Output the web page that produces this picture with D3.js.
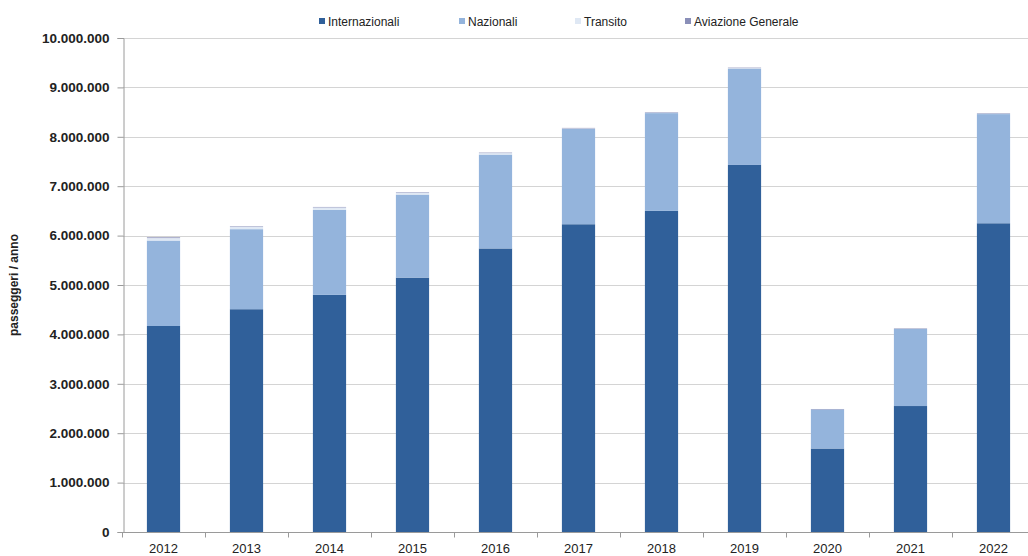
<!DOCTYPE html>
<html>
<head>
<meta charset="utf-8">
<script src="https://cdn.jsdelivr.net/npm/d3@7/dist/d3.min.js"></script>
<style>
  html, body { margin: 0; padding: 0; background: #ffffff; }
  svg { display: block; font-family: "Liberation Sans", Arial, sans-serif; }
</style>
</head>
<body>
<svg id="chart" width="1028" height="556"></svg>
<script>
// Annual passenger traffic, split by traffic type
const years = ["2012", "2013", "2014", "2015", "2016", "2017", "2018", "2019", "2020", "2021", "2022"];
const internazionali = [4170000, 4510000, 4800000, 5150000, 5740000, 6230000, 6500000, 7430000, 1690000, 2550000, 6250000];
const nazionali      = [1730000, 1620000, 1720000, 1680000, 1900000, 1930000, 1980000, 1950000,  790000, 1560000, 2210000];
const transito       = [  50000,   50000,   50000,   40000,   30000,   10000,   10000,   10000,       0,       0,   10000];
const aviazione      = [  15000,   10000,   10000,   10000,   10000,   10000,   10000,   10000,   10000,   10000,   10000];
const seriesNames = ["Internazionali", "Nazionali", "Transito", "Aviazione Generale"];
const yTicks = [0, 1000000, 2000000, 3000000, 4000000, 5000000, 6000000, 7000000, 8000000, 9000000, 10000000];
const yTitle = "passeggeri / anno";

const colors = {
  "Internazionali": "#30609a",
  "Nazionali": "#94b4dc",
  "Transito": "#dfe8f4",
  "Aviazione Generale": "#8a8fb8"
};

const rows = years.map((y, i) => ({
  year: y,
  "Internazionali": internazionali[i],
  "Nazionali": nazionali[i],
  "Transito": transito[i],
  "Aviazione Generale": aviazione[i]
}));

const svg = d3.select("#chart");
const W = 1028;

const x = d3.scaleBand().domain(years).range([122, 1035]).paddingInner(0.6).paddingOuter(0.3);
const y = d3.scaleLinear().domain([0, 10000000]).range([532, 38]);

const fmt = v => d3.format(",")(v).replace(/,/g, ".");

// horizontal gridlines
svg.append("g").selectAll("line").data(yTicks.filter(d => d > 0)).join("line")
  .attr("x1", 123).attr("x2", W)
  .attr("y1", d => Math.round(y(d)) + 0.5).attr("y2", d => Math.round(y(d)) + 0.5)
  .attr("stroke", "#d4d4d4").attr("stroke-width", 1);

// stacked bars
const stack = d3.stack().keys(seriesNames)(rows);
svg.append("g").selectAll("g").data(stack).join("g")
  .attr("fill", d => colors[d.key])
  .selectAll("rect").data(d => d).join("rect")
  .attr("x", d => x(d.data.year))
  .attr("width", x.bandwidth())
  .attr("y", d => y(d[1]))
  .attr("height", d => Math.max(0, y(d[0]) - y(d[1])));

// y axis
const yAxis = d3.axisLeft(y).tickValues(yTicks).tickFormat(fmt).tickSize(6).tickPadding(8);
const gy = svg.append("g").attr("transform", "translate(123.5,0)").call(yAxis);
gy.select(".domain").attr("stroke", "#9a9a9a");
gy.selectAll(".tick line").attr("stroke", "#9a9a9a");
gy.selectAll(".tick text")
  .attr("font-family", "Liberation Sans, Arial, sans-serif")
  .attr("font-size", 13.5).attr("font-weight", "bold").attr("fill", "#222");

// x axis with ticks at category boundaries
const gx = svg.append("g").attr("transform", "translate(0,532.5)");
gx.append("line").attr("x1", 123).attr("x2", W).attr("stroke", "#9a9a9a");
const bounds = years.map(d => x(d) - x.step() * x.paddingInner() / 2);
gx.selectAll(".bt").data(bounds).join("line").attr("class", "bt")
  .attr("x1", d => Math.round(d) + 0.5).attr("x2", d => Math.round(d) + 0.5)
  .attr("y1", 0).attr("y2", 5).attr("stroke", "#9a9a9a");
gx.selectAll("text").data(years).join("text")
  .attr("x", d => x(d) + x.bandwidth() / 2)
  .attr("y", 20)
  .attr("text-anchor", "middle")
  .attr("font-size", 13).attr("fill", "#222")
  .text(d => d);

// y axis title
svg.append("text")
  .attr("transform", "translate(18,285) rotate(-90)")
  .attr("text-anchor", "middle")
  .attr("font-size", 12).attr("font-weight", "bold").attr("fill", "#222")
  .text(yTitle);

// legend
const legendX = [319, 459, 575, 685];
const lg = svg.append("g").selectAll("g").data(seriesNames).join("g")
  .attr("transform", (d, i) => `translate(${legendX[i]},21)`);
lg.append("rect").attr("x", 0).attr("y", -3).attr("width", 6).attr("height", 6)
  .attr("fill", d => colors[d]);
lg.append("text").attr("x", 9).attr("y", 4.5)
  .attr("font-size", 12).attr("fill", "#222")
  .text(d => d);
</script>
</body>
</html>
